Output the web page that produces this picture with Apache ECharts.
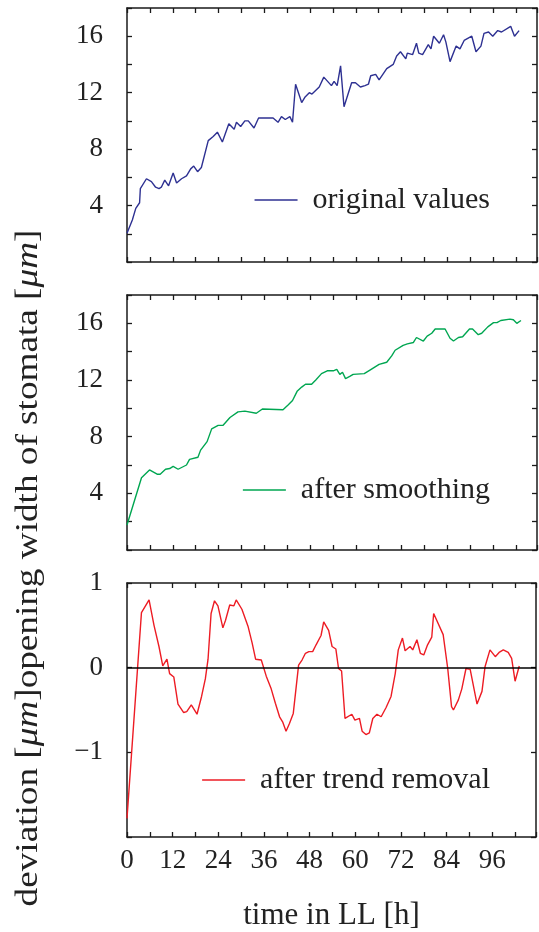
<!DOCTYPE html>
<html><head><meta charset="utf-8">
<script src="https://cdn.jsdelivr.net/npm/echarts@6/dist/echarts.min.js"></script>
<style>html,body{margin:0;padding:0;background:#fff}#c{width:539px;height:932px}</style>
</head><body><div id="c"></div>
<script>
// ---- data ----
const hoursOriginal = [0,1.4,2.3,3.3,3.5,5.1,6.4,7.5,8.4,9,9.9,10.9,12.1,13,14.3,15.6,16.7,17.5,18.5,19.5,21.3,22.6,23.7,25,26.7,28.1,28.7,29.8,30.9,31.8,33.3,34.5,35.7,38.3,39.6,40.5,41.5,42.7,43.4,44.2,45.8,46.7,47.8,48.5,50.4,51.6,53.6,54.3,55.1,56,56.9,58.9,59.9,61.2,62.4,63.3,63.9,65.2,66.1,68.1,69.8,70.7,71.7,73.1,73.5,74.9,75.9,76.5,77.5,79,79.7,80.4,81.9,83,83.6,84.7,86.3,87.3,88.4,90.4,91.5,92.8,93.6,94.8,95.9,97.2,98.2,100.6,101.6,102.8];
const valuesOriginal = [2.03,2.98,3.8,4.2,5.2,5.9,5.7,5.3,5.2,5.3,5.8,5.4,6.3,5.6,5.9,6.1,6.6,6.8,6.4,6.7,8.6,8.9,9.2,8.5,9.8,9.4,9.9,9.6,10.0,10.0,9.5,10.2,10.2,10.2,9.9,10.3,10.1,10.3,9.9,12.6,11.3,11.7,12.0,11.9,12.4,13.1,12.5,12.8,12.5,13.9,11.0,12.7,12.7,12.4,12.5,12.6,13.2,13.3,12.9,13.7,14.0,14.6,14.9,14.4,14.8,14.7,15.5,14.8,14.7,15.4,15.1,16.0,15.5,16.1,15.6,14.2,15.3,15.1,15.7,16.0,14.9,15.3,16.2,16.3,16.0,16.4,16.3,16.7,16.0,16.4];

const hoursSmoothed = [0,3.8,5.9,7.9,8.7,10.1,11.2,12.1,13.4,15.6,16.4,18.6,19.3,21,22.2,23.9,25.2,27,29.1,30.9,33.9,35.5,40.9,42.3,43.4,44.6,45.8,46.8,48.4,49.5,51,52.5,54.1,55,55.8,56.5,57.3,58.4,59.3,62.2,63.7,66.1,68.1,69.4,70.3,72.4,73.5,75.1,75.9,77.7,78.7,79.9,80.8,83.4,84.7,85.6,86.9,88,89.8,90.6,92.1,93,94.6,96.1,97,98,100.4,101.3,102.2,103.3];
const valuesSmoothed = [1.76,5.1,5.65,5.35,5.35,5.7,5.75,5.9,5.7,6.0,6.4,6.55,7.05,7.65,8.55,8.8,8.8,9.35,9.75,9.8,9.65,9.95,9.9,10.25,10.55,11.2,11.5,11.7,11.7,12.0,12.45,12.65,12.65,12.75,12.4,12.55,12.1,12.25,12.4,12.45,12.7,13.1,13.25,13.7,14.1,14.45,14.55,14.65,15.0,14.75,15.1,15.3,15.6,15.6,14.95,14.75,15.0,15.05,15.6,15.6,15.2,15.3,15.75,16.05,16.05,16.2,16.3,16.25,16.0,16.2];

const hoursDetrended = [0,3.8,5.8,7.1,8.4,9.4,10.5,11.2,12.3,13.4,14.9,15.7,16.9,18.4,19.6,20.6,21.3,22.1,23,23.9,25.2,25.9,27,28.1,28.7,30.2,31.8,32.9,33.8,35.3,36.6,37.9,39,40.1,40.9,41.8,42.7,43.7,45.1,46,46.9,47.8,48.8,49.7,51,51.7,53,53.9,54.9,55.6,56.4,57.3,59.1,59.9,61.1,61.8,62.8,63.7,64.6,65.7,66.8,68.1,69.4,70.5,71.3,72.4,73.1,74.4,75.1,76.2,77.1,78,79,80.1,80.6,83.1,84.3,85.3,85.8,87.1,88,89.1,90.2,92,93.3,94.1,95.4,96.8,97.8,98.9,100.2,101.1,102,103.1];
const valuesDetrended = [-1.78,0.65,0.80,0.50,0.25,0.02,0.10,-0.07,-0.11,-0.43,-0.53,-0.52,-0.44,-0.55,-0.34,-0.13,0.10,0.64,0.79,0.73,0.47,0.56,0.74,0.73,0.80,0.69,0.49,0.29,0.10,0.09,-0.10,-0.25,-0.42,-0.58,-0.64,-0.75,-0.66,-0.54,0.03,0.09,0.17,0.19,0.19,0.27,0.38,0.54,0.44,0.25,0.22,-0.01,-0.04,-0.60,-0.55,-0.62,-0.60,-0.75,-0.79,-0.77,-0.60,-0.55,-0.58,-0.47,-0.34,-0.07,0.21,0.35,0.20,0.25,0.21,0.33,0.17,0.15,0.27,0.36,0.64,0.39,-0.01,-0.46,-0.50,-0.38,-0.25,-0.01,-0.02,-0.43,-0.28,0.01,0.21,0.13,0.18,0.21,0.18,0.11,-0.16,0.02];

const seriesNames = ['original values', 'after smoothing', 'after trend removal'];
const xTickLabels = [0, 12, 24, 36, 48, 60, 72, 84, 96];
const yTickLabelsTop = [4, 8, 12, 16];
const yTickLabelsBottom = [1, 0, -1];
const xAxisTitle = 'time in LL [h]';

// ---- chart ----
const FONT = '"Liberation Serif", "DejaVu Serif", serif';
const TXT = '#222';
const LINE = '#1a1a1a';
const colors = ['#2e3192', '#00a651', '#ed1c24'];

const pair = (xs, ys) => xs.map((x, i) => [x, ys[i]]);
const grids = [
  {left: 127, right: 2, top: 8, height: 254},
  {left: 127, right: 2, top: 295, height: 255},
  {left: 127, right: 2, top: 583, height: 254}
];

const axisLine = {show: true, onZero: false, lineStyle: {color: LINE, width: 1.5}};
const axisTick = {show: true, inside: true, length: 5, lineStyle: {color: LINE, width: 1.3}};

const xAxes = [];
const yAxes = [];
for (let g = 0; g < 3; g++) {
  const isLast = g === 2;
  xAxes.push({
    type: 'value', gridIndex: g, position: 'bottom', min: 0, max: 107.5, interval: 6,
    axisLine, axisTick, splitLine: {show: false},
    axisLabel: {
      show: isLast, margin: 10, fontFamily: FONT, fontSize: 27, color: TXT,
      formatter: v => xTickLabels.includes(v) ? String(v) : ''
    },
    name: isLast ? xAxisTitle : '', nameLocation: 'middle', nameGap: 63,
    nameTextStyle: {fontFamily: FONT, fontSize: 31, color: TXT}
  });
  xAxes.push({
    type: 'value', gridIndex: g, position: 'top', min: 0, max: 107.5, interval: 6,
    axisLine, axisTick, splitLine: {show: false}, axisLabel: {show: false}
  });
  const yRange = isLast ? {min: -2, max: 1, interval: 1} : {min: 0, max: 18, interval: 2};
  const labels = isLast ? yTickLabelsBottom : yTickLabelsTop;
  yAxes.push(Object.assign({
    type: 'value', gridIndex: g, position: 'left',
    axisLine, axisTick, splitLine: {show: false},
    axisLabel: {
      margin: 24, fontFamily: FONT, fontSize: 27, color: TXT,
      formatter: v => labels.includes(v) ? (v < 0 ? '\u2212' + Math.abs(v) : String(v)) : ''
    }
  }, yRange));
  yAxes.push(Object.assign({
    type: 'value', gridIndex: g, position: 'right',
    axisLine, axisTick, splitLine: {show: false}, axisLabel: {show: false}
  }, yRange));
}

const dataSets = [
  pair(hoursOriginal, valuesOriginal),
  pair(hoursSmoothed, valuesSmoothed),
  pair(hoursDetrended, valuesDetrended)
];

const series = dataSets.map((d, g) => {
  const s = {
    name: seriesNames[g], type: 'line', xAxisIndex: g * 2, yAxisIndex: g * 2,
    data: d, symbol: 'none', color: colors[g],
    lineStyle: {width: 1.4, color: colors[g]}
  };
  if (g === 2) {
    s.markLine = {
      silent: true, symbol: 'none', label: {show: false},
      lineStyle: {color: '#000', width: 1.6, type: 'solid'},
      data: [{yAxis: 0}]
    };
  }
  return s;
});

const legendCenters = [198, 488, 778];
const legends = seriesNames.map((n, g) => ({
  data: [n], right: 49, top: legendCenters[g] - 13, padding: 0,
  icon: 'rect', itemWidth: 43, itemHeight: 1.6,
  textStyle: {fontFamily: FONT, fontSize: 30, color: TXT, padding: [0, 0, 0, 10]},
  selectedMode: false
}));

const chart = echarts.init(document.getElementById('c'), null, {renderer: 'canvas'});
chart.setOption({
  animation: false,
  backgroundColor: '#fff',
  grid: grids,
  xAxis: xAxes,
  yAxis: yAxes,
  legend: legends,
  series: series,
  graphic: [{
    type: 'text', x: 29, y: 568, rotation: Math.PI / 2, scaleX: 1.2,
    style: {
      text: 'deviation [{i|\u03bcm}]opening width of stomata [{i|\u03bcm}]',
      fontFamily: FONT, fontSize: 31, fill: TXT,
      align: 'center', verticalAlign: 'middle',
      rich: {i: {fontFamily: FONT, fontSize: 31, fontStyle: 'italic', fill: TXT}}
    }
  }]
});
</script></body></html>
